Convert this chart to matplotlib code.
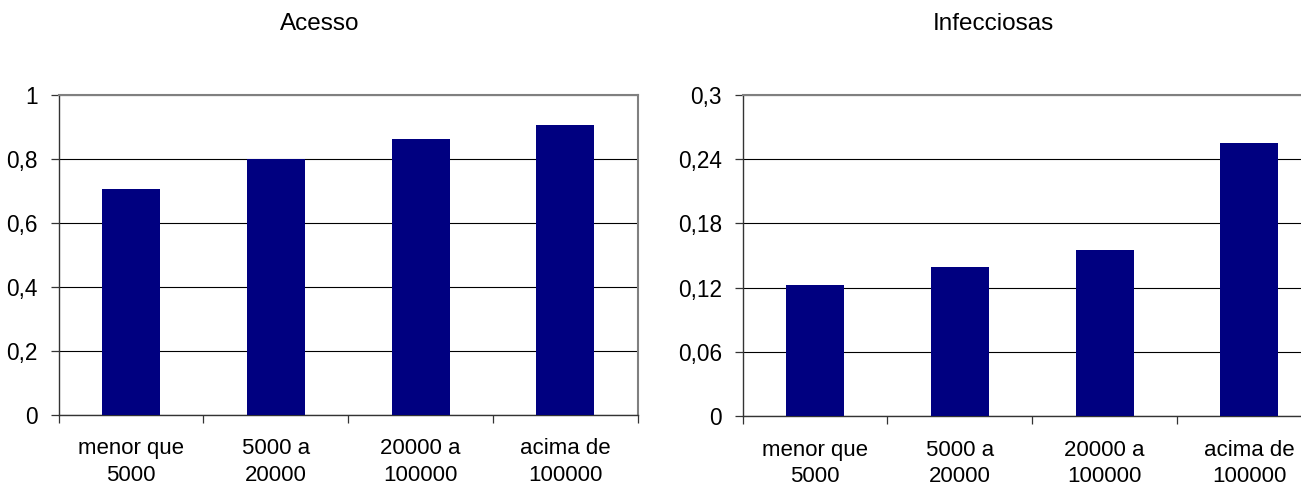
import matplotlib.pyplot as plt
import numpy as np

plt.rcParams['font.family'] = ['Liberation Sans', 'DejaVu Sans']

categorias = ["menor que\n5000", "5000 a\n20000", "20000 a\n100000", "acima de\n100000"]
acesso = [0.705, 0.80, 0.862, 0.905]
infecciosas = [0.122, 0.139, 0.155, 0.255]

acesso_ticks = [0, 0.2, 0.4, 0.6, 0.8, 1]
acesso_labels = ["0", "0,2", "0,4", "0,6", "0,8", "1"]
infec_ticks = [0, 0.06, 0.12, 0.18, 0.24, 0.3]
infec_labels = ["0", "0,06", "0,12", "0,18", "0,24", "0,3"]

W, H = 1301, 488
fig = plt.figure(figsize=(W / 100, H / 100), dpi=100)


def painel(rect, valores, ticks, labels, titulo, titulo_x):
    ax = fig.add_axes(rect)
    x = np.arange(len(categorias))
    ax.bar(x, valores, width=0.40, color="#000080", zorder=3)
    ax.set_xlim(-0.5, len(categorias) - 0.5)
    ax.set_ylim(ticks[0], ticks[-1])
    ax.set_yticks(ticks)
    ax.set_yticklabels(labels)
    ax.yaxis.grid(True, color="black", linewidth=0.8, zorder=1)
    ax.set_axisbelow(True)

    # rótulos no centro das categorias, marcas entre elas
    ax.set_xticks(x)
    ax.set_xticklabels(categorias, linespacing=1.35)
    ax.set_xticks(np.arange(-0.5, len(categorias)), minor=True)
    ax.tick_params(axis="x", which="major", length=0, pad=17, labelsize=16)
    ax.tick_params(axis="x", which="minor", length=6, width=0.9, color="#333333")
    ax.tick_params(axis="y", length=6, width=0.9, color="#333333", pad=9, labelsize=16.3)

    for s in ("left", "bottom"):
        ax.spines[s].set_color("#333333")
        ax.spines[s].set_linewidth(1.0)
    for s in ("top", "right"):
        ax.spines[s].set_color("#808080")
        ax.spines[s].set_linewidth(1.5)

    fig.text(titulo_x / W, 1 - 24 / H, titulo, ha="center", va="center", fontsize=17.5)
    return ax


painel([58.7 / W, 73.3 / H, 579 / W, 320 / H], acesso,
       acesso_ticks, acesso_labels, "Acesso", 320)
painel([742.7 / W, 72 / H, 579 / W, 321 / H], infecciosas,
       infec_ticks, infec_labels, "Infecciosas", 993)

fig.savefig("out.png", dpi=100)
